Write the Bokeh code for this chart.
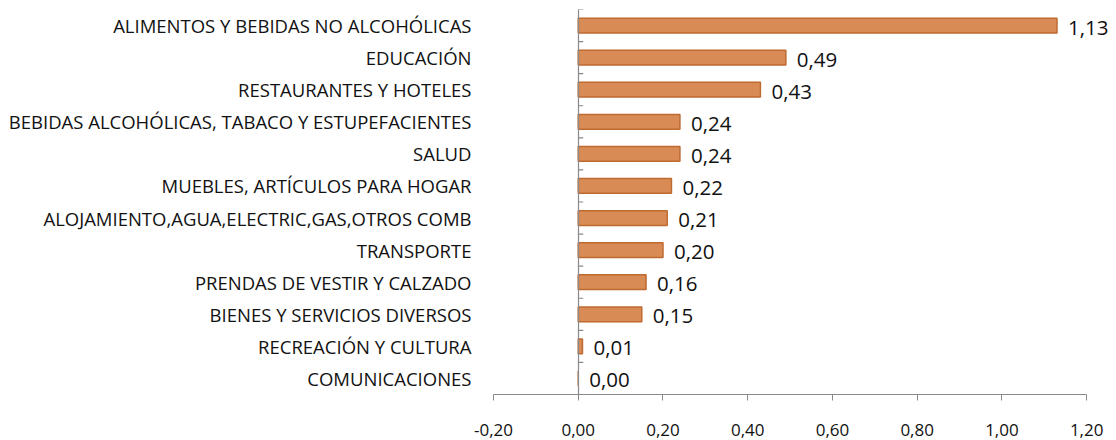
from bokeh.plotting import figure
from bokeh.models import Range1d, LinearAxis, FixedTicker, ColumnDataSource, LabelSet
from bokeh.core.properties import value
from bokeh.embed import file_html
from bokeh.resources import INLINE

categories = [
    "ALIMENTOS Y BEBIDAS NO ALCOHÓLICAS",
    "EDUCACIÓN",
    "RESTAURANTES Y HOTELES",
    "BEBIDAS ALCOHÓLICAS, TABACO Y ESTUPEFACIENTES",
    "SALUD",
    "MUEBLES, ARTÍCULOS PARA HOGAR",
    "ALOJAMIENTO,AGUA,ELECTRIC,GAS,OTROS COMB",
    "TRANSPORTE",
    "PRENDAS DE VESTIR Y CALZADO",
    "BIENES Y SERVICIOS DIVERSOS",
    "RECREACIÓN Y CULTURA",
    "COMUNICACIONES",
]
values = [1.13, 0.49, 0.43, 0.24, 0.24, 0.22, 0.21, 0.20, 0.16, 0.15, 0.01, 0.00]
x_ticks = [-0.2, 0.0, 0.2, 0.4, 0.6, 0.8, 1.0, 1.2]
x_tick_labels = ["-0,20", "0,00", "0,20", "0,40", "0,60", "0,80", "1,00", "1,20"]

FONT = "Open Sans"
AXIS_GRAY = "#898989"

W, H = 1116, 440
BL, BR, BT, BB = 493, 4, 9, 46
X0, X1 = -0.2, 1.261

n = len(categories)
ypos = [n - 1 - i for i in range(n)]
labels = [f"{v:.2f}".replace(".", ",") for v in values]

src = ColumnDataSource(dict(y=ypos, v=values, lab=labels, cat=categories))

p = figure(
    width=W, height=H,
    x_range=Range1d(X0, X1), y_range=Range1d(-0.5, n - 0.5),
    output_backend="svg", toolbar_location=None,
    x_axis_location=None, y_axis_location=None,
    min_border_left=BL, min_border_right=BR, min_border_top=BT, min_border_bottom=BB,
)
p.outline_line_color = None
p.xgrid.visible = False
p.ygrid.visible = False
p.background_fill_color = "white"

p.hbar(y="y", right="v", left=0, height=0.46, source=src,
       fill_color="#D88B55", line_color="#BE6A30", line_width=1.5)

# category labels on the left
yax = LinearAxis(
    ticker=FixedTicker(ticks=ypos),
    major_label_overrides={y: c for y, c in zip(ypos, categories)},
    axis_line_color=None, major_tick_line_color=None, minor_tick_line_color=None,
    major_tick_in=0, major_tick_out=0,
    major_label_standoff=22,
    major_label_text_font=FONT, major_label_text_font_size="18.5px",
    major_label_text_color="#111111",
)
p.add_layout(yax, "left")

# vertical axis line at x = 0
bounds = [y - 0.5 for y in range(n + 1)]
zax = LinearAxis(
    fixed_location=0,
    ticker=FixedTicker(ticks=bounds),
    major_label_overrides={b: "" for b in bounds},
    major_label_text_font_size="0px", major_label_standoff=0,
    axis_line_color=AXIS_GRAY, axis_line_width=1.2,
    major_tick_line_color=None, major_tick_in=0, major_tick_out=0,
    minor_tick_line_color=None,
)
p.add_layout(zax, "right")

# category boundary ticks on the zero line (5 px long, to the right)
tick_len = 5 / ((W - BL - BR) / (X1 - X0))
p.segment(x0=[0] * len(bounds), x1=[tick_len] * len(bounds), y0=bounds, y1=bounds,
          line_color=AXIS_GRAY, line_width=1.2)

# x axis
xax = LinearAxis(
    ticker=FixedTicker(ticks=x_ticks),
    major_label_overrides={t: l for t, l in zip(x_ticks, x_tick_labels)},
    bounds=(-0.2, 1.2),
    axis_line_color=AXIS_GRAY, axis_line_width=1.2,
    major_tick_line_color=AXIS_GRAY, major_tick_in=0, major_tick_out=6,
    minor_tick_line_color=None,
    major_label_standoff=23,
    major_label_text_font=FONT, major_label_text_font_size="17px",
    major_label_text_color="#111111",
)
p.add_layout(xax, "below")

p.add_layout(LabelSet(x="v", y="y", text="lab", source=src, x_offset=11, y_offset=-2,
                      text_baseline="middle", text_align="left",
                      text_font=value(FONT), text_font_size="20.5px", text_color="#111111"))

open("out.html", "w").write(file_html(p, INLINE))
